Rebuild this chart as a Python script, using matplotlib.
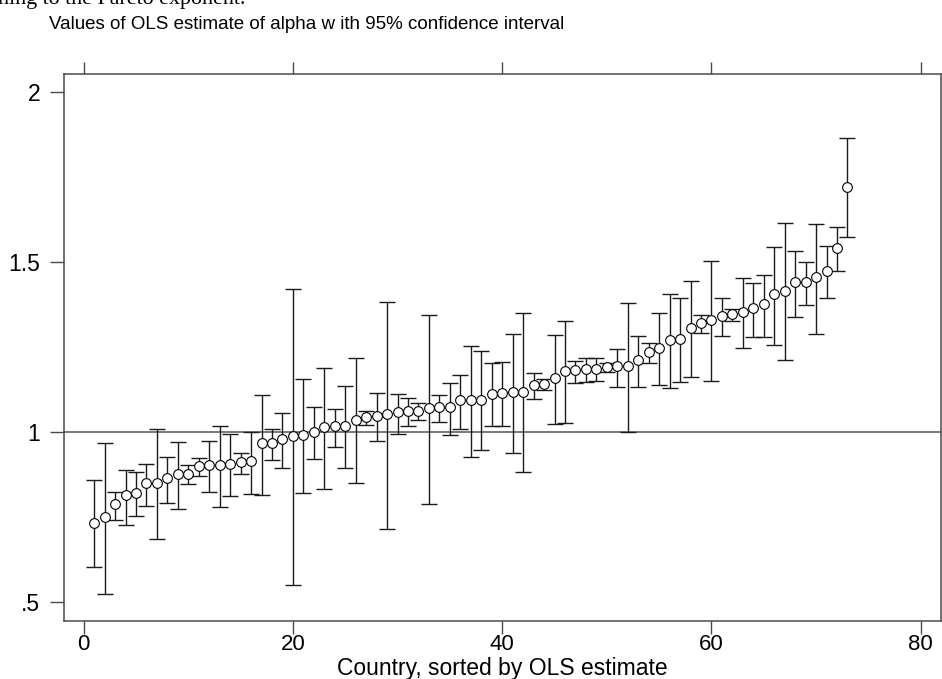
import matplotlib
matplotlib.use("Agg")
import matplotlib.pyplot as plt

plt.rcParams['font.family'] = ['Liberation Sans', 'DejaVu Sans']

# Country index (sorted by OLS estimate)
country = list(range(1, 74))

# OLS estimate of alpha
est = [0.733, 0.749, 0.787, 0.813, 0.821, 0.849, 0.851, 0.863, 0.876, 0.877,
       0.900, 0.902, 0.902, 0.906, 0.912, 0.913, 0.966, 0.968, 0.980, 0.987,
       0.992, 1.000, 1.014, 1.016, 1.018, 1.036, 1.044, 1.048, 1.054, 1.059,
       1.061, 1.063, 1.069, 1.072, 1.072, 1.093, 1.093, 1.095, 1.113, 1.116,
       1.118, 1.118, 1.137, 1.142, 1.158, 1.180, 1.181, 1.185, 1.186, 1.190,
       1.193, 1.193, 1.211, 1.236, 1.248, 1.271, 1.274, 1.305, 1.321, 1.329,
       1.342, 1.348, 1.354, 1.364, 1.376, 1.405, 1.416, 1.440, 1.442, 1.455,
       1.475, 1.543, 1.721]

# Lower bound of 95% CI
lo = [0.602, 0.524, 0.741, 0.727, 0.751, 0.783, 0.686, 0.792, 0.773, 0.847,
      0.869, 0.824, 0.780, 0.812, 0.876, 0.817, 0.814, 0.916, 0.895, 0.548,
      0.820, 0.919, 0.831, 0.956, 0.893, 0.851, 1.021, 0.973, 0.714, 0.994,
      1.016, 1.034, 0.787, 1.028, 0.992, 1.009, 0.927, 0.946, 1.018, 1.016,
      0.939, 0.883, 1.097, 1.124, 1.024, 1.025, 1.145, 1.147, 1.149, 1.175,
      1.132, 1.001, 1.132, 1.204, 1.138, 1.128, 1.146, 1.161, 1.290, 1.150,
      1.283, 1.327, 1.248, 1.279, 1.280, 1.256, 1.211, 1.339, 1.375, 1.288,
      1.394, 1.475, 1.573]

# Upper bound of 95% CI
hi = [0.858, 0.966, 0.824, 0.889, 0.883, 0.905, 1.010, 0.927, 0.969, 0.902,
      0.922, 0.973, 1.017, 0.993, 0.937, 1.001, 1.110, 1.009, 1.057, 1.421,
      1.157, 1.074, 1.189, 1.068, 1.134, 1.218, 1.062, 1.116, 1.383, 1.113,
      1.100, 1.084, 1.344, 1.108, 1.145, 1.169, 1.253, 1.237, 1.202, 1.207,
      1.288, 1.350, 1.173, 1.157, 1.285, 1.327, 1.210, 1.217, 1.217, 1.203,
      1.245, 1.380, 1.281, 1.262, 1.349, 1.407, 1.393, 1.444, 1.344, 1.502,
      1.393, 1.363, 1.454, 1.439, 1.462, 1.545, 1.615, 1.532, 1.501, 1.613,
      1.547, 1.603, 1.865]

xticks = [0, 20, 40, 60, 80]
yticks = [0.5, 1.0, 1.5, 2.0]
yticklabels = ['.5', '1', '1.5', '2']
title = "Values of OLS estimate of alpha w ith 95% confidence interval"
xlabel = "Country, sorted by OLS estimate"
above_text = "ning to the Pareto exponent."

W, H = 942, 679
fig = plt.figure(figsize=(W / 100, H / 100), dpi=100)
ax = fig.add_axes([63.7 / W, 1 - 621 / H, (940.7 - 63.7) / W, (621 - 73.7) / H])

frame_col = '#4a4a4a'
ax.axhline(1.0, color='#555555', lw=1.1, zorder=1)

yerr = [[e - l for e, l in zip(est, lo)], [h - e for e, h in zip(est, hi)]]
ax.errorbar(country, est, yerr=yerr, fmt='none', ecolor='#1a1a1a',
            elinewidth=1.0, capsize=6, capthick=1.0, zorder=2)
ax.plot(country, est, linestyle='none', marker='o', ms=7.0,
        mfc='white', mec='black', mew=0.8, zorder=3)

ax.set_xlim(-1.91, 81.91)
ax.set_ylim(0.4432, 2.0548)
ax.set_xticks(xticks)
ax.set_yticks(yticks)
ax.set_yticklabels(yticklabels)

for sp in ax.spines.values():
    sp.set_color(frame_col)
    sp.set_linewidth(1.1)

ax.tick_params(axis='x', which='both', direction='out', length=9, width=1.0,
               color=frame_col, top=True, labeltop=False, labelsize=16, pad=0.5)
ax.tick_params(axis='y', which='both', direction='out', length=10, width=1.0,
               color=frame_col, right=False, labelsize=16.5, pad=7)

ax.set_xlabel(xlabel, fontsize=16.5, labelpad=1)

fig.text(49 / W, 1 - 29 / H, title, fontsize=13.5, va='baseline', ha='left')
fig.text(-2 / W, 1 - 4 / H, above_text, fontsize=15.8, va='baseline', ha='left',
         family=['Liberation Serif', 'DejaVu Serif'])

fig.savefig('out.png', dpi=100)
